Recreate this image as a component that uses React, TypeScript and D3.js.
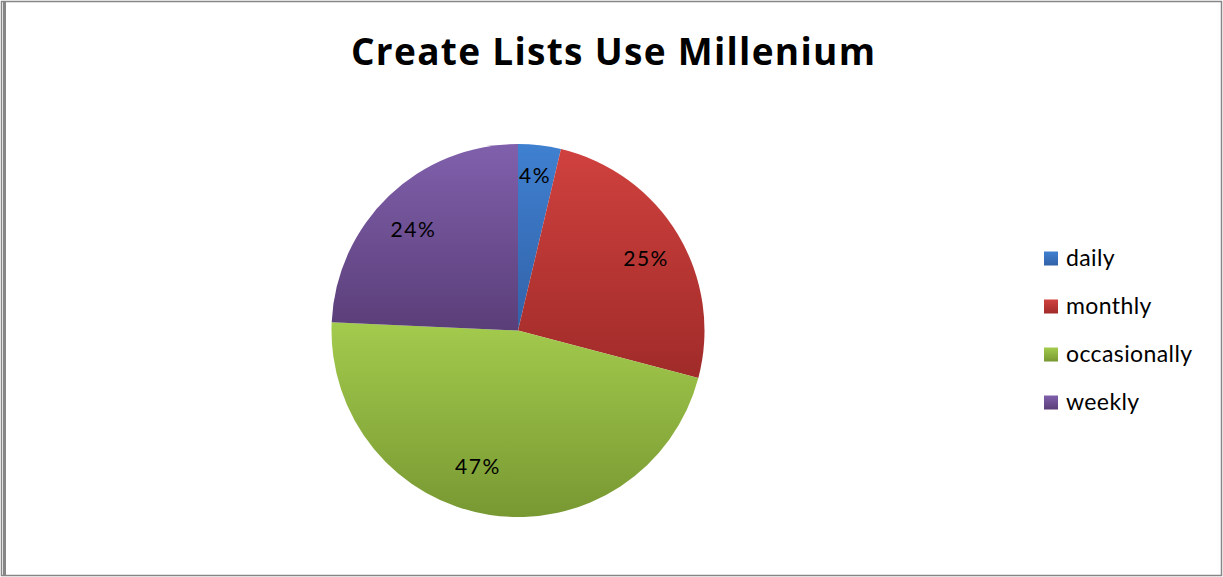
import React, { useEffect, useRef } from "react";
import * as d3 from "d3";

const title = "Create Lists Use Millenium";
const categories = ["daily", "monthly", "occasionally", "weekly"];
const values = [3.7, 25.4, 46.6, 24.3];
const lightColors = ["#3f80d0", "#cf413e", "#a3cb4d", "#8060ac"];
const darkColors = ["#3262a8", "#a02b29", "#789832", "#5a3e78"];

export default function App() {
  const ref = useRef<SVGSVGElement | null>(null);
  useEffect(() => {
    document.body.style.margin = "0";
    const svg = d3.select(ref.current);
    svg.selectAll("*").remove();
    const W = 1223, H = 577;
    const font = "Lato, 'Open Sans', sans-serif";
    const defs = svg.append("defs");
    categories.forEach((c, i) => {
      const g = defs.append("linearGradient").attr("id", "g" + i)
        .attr("x1", 0).attr("y1", 0).attr("x2", 0).attr("y2", 1);
      g.append("stop").attr("offset", "0%").attr("stop-color", lightColors[i]);
      g.append("stop").attr("offset", "100%").attr("stop-color", darkColors[i]);
    });

    svg.append("rect").attr("width", W).attr("height", H).attr("fill", "#fff");
    svg.append("rect").attr("x", 1.5).attr("y", 1.5).attr("width", 1220).attr("height", 574)
      .attr("fill", "none").attr("stroke", "#868686").attr("stroke-width", 1.5);
    svg.append("line").attr("x1", 4.5).attr("x2", 4.5).attr("y1", 1).attr("y2", 576)
      .attr("stroke", "#868686").attr("stroke-width", 3);

    svg.append("text").attr("x", 613).attr("y", 64.5).attr("text-anchor", "middle")
      .attr("font-family", "'Open Sans', Lato, sans-serif").attr("font-weight", "bold").attr("font-size", 37)
      .attr("textLength", 524).attr("lengthAdjust", "spacing")
      .attr("fill", "#000").text(title);

    const cx = 518, cy = 330.5, r = 186.5;
    const pie = d3.pie<number>().sort(null).value((d) => d);
    const arcs = pie(values);
    const arc = d3.arc<d3.PieArcDatum<number>>().innerRadius(0).outerRadius(r);
    const gP = svg.append("g").attr("transform", `translate(${cx},${cy})`);
    gP.selectAll("path").data(arcs).enter().append("path")
      .attr("d", arc as any)
      .attr("fill", (_d, i) => `url(#g${i})`);

    const total = d3.sum(values);
    const lr = 147;
    const labelArc = d3.arc<d3.PieArcDatum<number>>().innerRadius(lr).outerRadius(lr);
    // nudges in data order: daily, monthly, occasionally, weekly
    const offsets = [[0, -10], [2, 3], [-18, -10], [-3, 4]];
    gP.selectAll("text").data(arcs).enter().append("text")
      .attr("x", (d, i) => labelArc.centroid(d)[0] + offsets[i][0])
      .attr("y", (d, i) => labelArc.centroid(d)[1] + offsets[i][1])
      .attr("text-anchor", "middle").attr("dominant-baseline", "central")
      .attr("font-family", font).attr("font-size", 21).attr("letter-spacing", 1.5).attr("fill", "#000")
      .text((d) => `${Math.round((d.data / total) * 100)}%`);

    const lg = svg.append("g").attr("transform", "translate(1044,251.5)");
    categories.forEach((c, i) => {
      const row = lg.append("g").attr("transform", `translate(0,${i * 48})`);
      row.append("rect").attr("width", 14).attr("height", 14).attr("fill", `url(#g${i})`);
      row.append("text").attr("x", 22).attr("y", 14.2)
        .attr("font-family", font).attr("font-size", 23).attr("letter-spacing", 0.4)
        .attr("fill", "#000").text(c);
    });
  }, []);
  return <svg ref={ref} width={1223} height={577} style={{ display: "block" }} />;
}
